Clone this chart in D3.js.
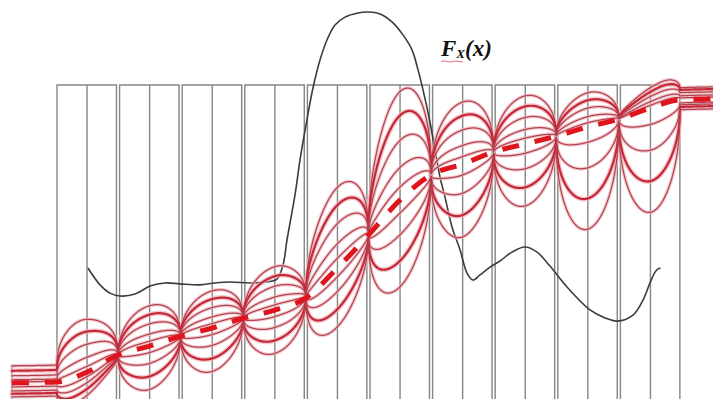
<!DOCTYPE html>
<html>
<head>
<meta charset="utf-8">
<script src="https://cdn.jsdelivr.net/npm/d3@7"></script>
<style>
  html, body { margin: 0; padding: 0; background: #fff; }
  svg { display: block; }
</style>
</head>
<body>
<script>
// ---- data -------------------------------------------------------------
// frames (bins) along x: left edge of each frame
const binStarts = [0, 1, 2, 3, 4, 5, 6, 7, 8, 9];
const binWidth = 0.95;
const binMid = 0.48;
const stubStart = -0.72;     // short frame left of the first bin
const stubTop = 0.094;

// cumulative distribution F_X(x): knots (x, probability)
const cdfX = [-0.72, 0, 0.48, 0.975, 1.48, 1.975, 2.48, 2.975, 3.48, 3.975,
              4.48, 4.975, 5.48, 5.975, 6.48, 6.975, 7.48, 7.975, 8.48, 8.975,
              9.48, 9.95, 10.5];
const cdfP = [0.039, 0.042, 0.074, 0.129, 0.158, 0.19, 0.216, 0.248, 0.274, 0.313,
              0.41, 0.516, 0.629, 0.71, 0.745, 0.784, 0.81, 0.835, 0.865, 0.89,
              0.926, 0.952, 0.955];

// segments between the points where all realisations meet F_X
const segBounds = [0, 0.975, 1.975, 2.975, 3.975, 4.975, 5.975, 6.975, 7.975, 8.975, 9.95];
// largest excursion above / below F_X inside each segment
const upReach   = [0.142, 0.13, 0.12, 0.14, 0.26, 0.35, 0.2, 0.155, 0.11, 0.045];
const downReach = [0.052, 0.14, 0.14, 0.14, 0.19, 0.28, 0.235, 0.2, 0.33, 0.32];

// realisations: relative excursion, level left of the bins, level right of the bins
const realWeight = [1, 0.78, 0.55, 0.3, 0.12, -0.15, -0.4, -0.7, -1];
const realStart  = [0.055, 0.039, 0.023, 0.01, 0.003, -0.013, -0.026, -0.035, -0.045];
const realEnd    = [0.039, 0.032, 0.023, 0.013, 0.006, -0.01, -0.016, -0.023, -0.032];
const realBold   = [false, true, false, false, false, false, false, true, false];

// density curve (x, relative height)
const densX = [0.495, 0.687, 0.847, 1.006, 1.246, 1.486, 1.725, 1.965, 2.284, 2.524,
               2.764, 3.083, 3.323, 3.514, 3.61, 3.674, 3.802, 3.882, 3.978, 4.089,
               4.201, 4.313, 4.441, 4.601, 4.808, 4.968, 5.16, 5.351, 5.527, 5.671,
               5.767, 5.847, 5.958, 6.118, 6.198, 6.31, 6.438, 6.55, 6.645, 6.757,
               6.917, 7.077, 7.268, 7.476, 7.668, 7.875, 8.147, 8.514, 8.754, 8.946,
               9.201, 9.361, 9.473, 9.553, 9.601, 9.64];
const densY = [0.195, 0.142, 0.116, 0.107, 0.113, 0.138, 0.148, 0.145, 0.142, 0.148,
               0.151, 0.148, 0.151, 0.16, 0.204, 0.283, 0.425, 0.535, 0.645, 0.761,
               0.849, 0.912, 0.959, 0.984, 0.997, 1.0, 0.994, 0.969, 0.928, 0.881,
               0.818, 0.755, 0.654, 0.481, 0.418, 0.324, 0.252, 0.179, 0.157, 0.173,
               0.198, 0.217, 0.245, 0.261, 0.245, 0.201, 0.135, 0.063, 0.038, 0.028,
               0.047, 0.094, 0.148, 0.182, 0.192, 0.195];

// ---- layout -----------------------------------------------------------
const W = 713, H = 399;
const x = d3.scaleLinear().domain([0, 10]).range([57, 683]);
const y = d3.scaleLinear().domain([0, 1]).range([395, 85]);
const yd = d3.scaleLinear().domain([0, 1]).range([330, 12]);

const svg = d3.select("body").append("svg")
  .attr("width", W).attr("height", H)
  .style("background", "#fff");

// monotone (Steffen) cubic through the F_X knots
function monotone(xs, ys) {
  const n = xs.length, h = [], s = [], m = new Array(n).fill(0);
  for (let i = 0; i < n - 1; i++) {
    h[i] = xs[i + 1] - xs[i];
    s[i] = (ys[i + 1] - ys[i]) / h[i];
  }
  for (let i = 1; i < n - 1; i++) {
    const p = (s[i - 1] * h[i] + s[i] * h[i - 1]) / (h[i - 1] + h[i]);
    m[i] = (Math.sign(s[i - 1]) + Math.sign(s[i])) *
           Math.min(Math.abs(s[i - 1]), Math.abs(s[i]), 0.5 * Math.abs(p)) || 0;
  }
  m[0] = s[0]; m[n - 1] = s[n - 2];
  return function (v) {
    let i = d3.bisectRight(xs, v) - 1;
    i = Math.max(0, Math.min(n - 2, i));
    const t = (v - xs[i]) / h[i], t2 = t * t, t3 = t2 * t;
    return (2 * t3 - 3 * t2 + 1) * ys[i] + (t3 - 2 * t2 + t) * h[i] * m[i] +
           (-2 * t3 + 3 * t2) * ys[i + 1] + (t3 - t2) * h[i] * m[i + 1];
  };
}
const F = monotone(cdfX, cdfP);

// ---- frames -----------------------------------------------------------
const frameG = svg.append("g")
  .attr("fill", "none").attr("stroke", "#858585").attr("stroke-width", 1.4);

frameG.selectAll("path.bin").data(binStarts).join("path")
  .attr("class", "bin")
  .attr("d", b => `M${x(b)},${H + 2}V${y(1)}H${x(b + binWidth)}V${H + 2}` +
                  `M${x(b + binMid)},${y(1)}V${H + 2}`);

frameG.append("path")
  .attr("d", `M${x(stubStart)},${H + 2}V${y(stubTop)}H${x(0)}`);

// ---- density ----------------------------------------------------------
svg.append("path")
  .datum(d3.zip(densX, densY))
  .attr("fill", "none").attr("stroke", "#3c3c3c").attr("stroke-width", 1.6)
  .attr("d", d3.line().x(d => x(d[0])).y(d => yd(d[1]))
    .curve(d3.curveCatmullRom.alpha(0.5)));

// ---- realisations -----------------------------------------------------
function realisation(k, v) {
  const c = F(v);
  if (v <= segBounds[0]) return c + realStart[k];
  if (v >= segBounds[segBounds.length - 1]) return c + realEnd[k];
  let s = d3.bisectRight(segBounds, v) - 1;
  s = Math.min(s, segBounds.length - 2);
  const t = (v - segBounds[s]) / (segBounds[s + 1] - segBounds[s]);
  const w = realWeight[k];
  const amp = w > 0 ? upReach[s] * w : downReach[s] * w;
  let val = c + amp * Math.pow(Math.sin(Math.PI * t), 0.42);
  if (s === 0) val += realStart[k] * (1 + Math.cos(Math.PI * t)) / 2;
  if (s === segBounds.length - 2) val += realEnd[k] * (1 - Math.cos(Math.PI * t)) / 2;
  return val;
}

const xs = d3.range(stubStart, 10.52, 0.002);
const realLine = d3.line().x(d => x(d[0])).y(d => y(d[1]));
const reals = realWeight.map((w, k) => xs.map(v => [v, realisation(k, v)]));

const redG = svg.append("g").attr("fill", "none")
  .attr("stroke-linejoin", "round").attr("stroke-linecap", "round");
redG.selectAll("path.halo").data(reals).join("path")
  .attr("class", "halo")
  .attr("stroke", "#f1b3ba").attr("stroke-opacity", 0.7)
  .attr("stroke-width", (d, k) => realBold[k] ? 5 : 3.6)
  .attr("d", realLine);
redG.selectAll("path.core").data(reals).join("path")
  .attr("class", "core")
  .attr("stroke", (d, k) => realBold[k] ? "#c42838" : "#b0434f")
  .attr("stroke-width", (d, k) => realBold[k] ? 2.2 : 1.25)
  .attr("d", realLine);

// ---- F_X(x) -----------------------------------------------------------
svg.append("path")
  .datum(xs.map(v => [v, F(v)]))
  .attr("fill", "none").attr("stroke", "#e0141c").attr("stroke-width", 5)
  .attr("stroke-dasharray", "17,16")
  .attr("d", realLine);

// ---- label ------------------------------------------------------------
const label = svg.append("text")
  .attr("x", 441).attr("y", 56)
  .attr("font-family", "'Liberation Serif', 'DejaVu Serif', serif")
  .attr("font-weight", "bold").attr("font-style", "italic")
  .attr("font-size", 23).attr("fill", "#111");
label.append("tspan").text("F");
label.append("tspan").attr("font-size", 13).attr("dy", 2).text("X");
label.append("tspan").attr("dy", -2).text("(x)");

svg.append("path")
  .attr("d", "M441,61.5q3,-1.2 6,0t6,0t6,0t4,0")
  .attr("fill", "none").attr("stroke", "#e0707e").attr("stroke-width", 1);
</script>
</body>
</html>
